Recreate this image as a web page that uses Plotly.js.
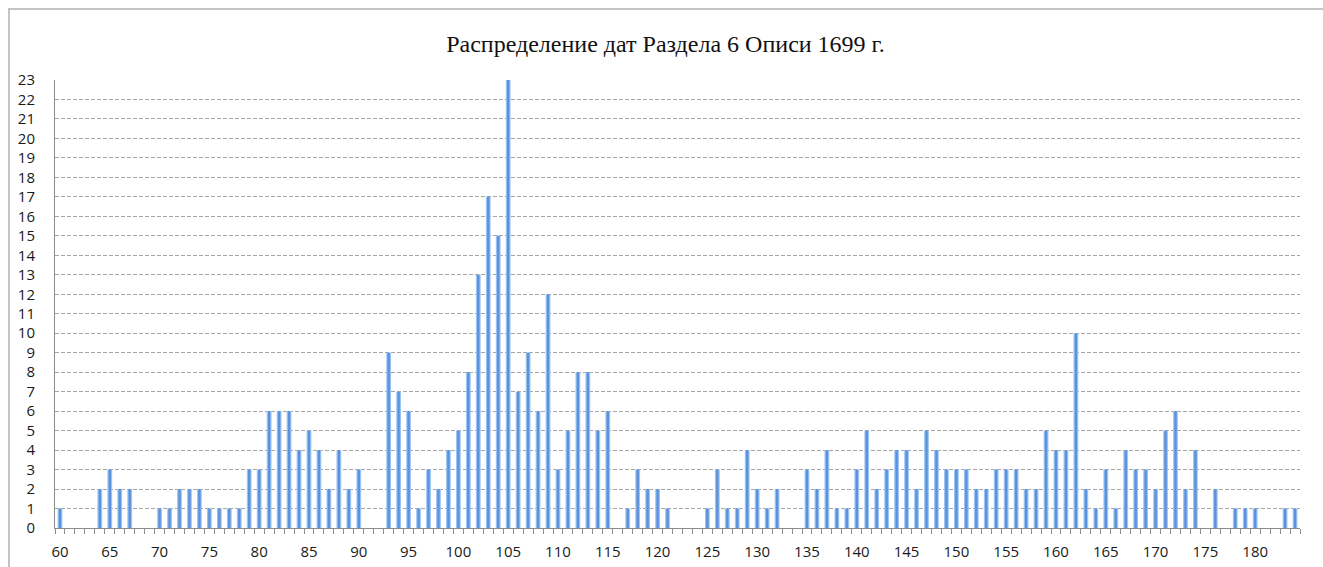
<!DOCTYPE html>
<html>
<head>
<meta charset="utf-8">
<script src="https://cdn.plot.ly/plotly-3.0.1.min.js"></script>
<style>
  html, body { margin: 0; padding: 0; background: #ffffff; width: 1323px; height: 567px; overflow: hidden; }
  #frame { position: absolute; left: 8px; top: 8px; width: 2000px; height: 2000px; border-left: 2px solid #c4c4c4; border-top: 2px solid #c4c4c4; }
  #chart { position: absolute; left: 0; top: 0; width: 1323px; height: 567px; }
</style>
</head>
<body>
<div id="frame"></div>
<div id="chart"></div>
<script>
const years = [
  60, 61, 62, 63, 64, 65, 66, 67, 68, 69,
  70, 71, 72, 73, 74, 75, 76, 77, 78, 79,
  80, 81, 82, 83, 84, 85, 86, 87, 88, 89,
  90, 91, 92, 93, 94, 95, 96, 97, 98, 99,
  100, 101, 102, 103, 104, 105, 106, 107, 108, 109,
  110, 111, 112, 113, 114, 115, 116, 117, 118, 119,
  120, 121, 122, 123, 124, 125, 126, 127, 128, 129,
  130, 131, 132, 133, 134, 135, 136, 137, 138, 139,
  140, 141, 142, 143, 144, 145, 146, 147, 148, 149,
  150, 151, 152, 153, 154, 155, 156, 157, 158, 159,
  160, 161, 162, 163, 164, 165, 166, 167, 168, 169,
  170, 171, 172, 173, 174, 175, 176, 177, 178, 179,
  180, 181, 182, 183, 184
];
const counts = [
  1, 0, 0, 0, 2, 3, 2, 2, 0, 0,
  1, 1, 2, 2, 2, 1, 1, 1, 1, 3,
  3, 6, 6, 6, 4, 5, 4, 2, 4, 2,
  3, 0, 0, 9, 7, 6, 1, 3, 2, 4,
  5, 8, 13, 17, 15, 23, 7, 9, 6, 12,
  3, 5, 8, 8, 5, 6, 0, 1, 3, 2,
  2, 1, 0, 0, 0, 1, 3, 1, 1, 4,
  2, 1, 2, 0, 0, 3, 2, 4, 1, 1,
  3, 5, 2, 3, 4, 4, 2, 5, 4, 3,
  3, 3, 2, 2, 3, 3, 3, 2, 2, 5,
  4, 4, 10, 2, 1, 3, 1, 4, 3, 3,
  2, 5, 6, 2, 4, 0, 2, 0, 1, 1,
  1, 0, 0, 1, 1
];
const xTickVals = [60, 65, 70, 75, 80, 85, 90, 95, 100, 105, 110, 115, 120, 125, 130, 135, 140, 145, 150, 155, 160, 165, 170, 175, 180];
const yTickVals = [0, 1, 2, 3, 4, 5, 6, 7, 8, 9, 10, 11, 12, 13, 14, 15, 16, 17, 18, 19, 20, 21, 22, 23];
const titleText = 'Распределение дат Раздела 6 Описи 1699 г.';

const traces = [
  {
    type: 'bar', x: years, y: counts, width: 0.48,
    marker: { color: '#9cc4f3', line: { width: 0 } },
    hoverinfo: 'x+y', showlegend: false
  },
  {
    type: 'bar', x: years, y: counts, width: 0.24,
    marker: { color: '#5b92de', line: { width: 0 } },
    hoverinfo: 'skip', showlegend: false
  }
];

const tickFont = { family: 'Open Sans', size: 15, color: '#1a1a1a' };

const layout = {
  width: 1323, height: 567,
  margin: { l: 55, r: 23, t: 80, b: 39 },
  paper_bgcolor: 'rgba(0,0,0,0)',
  plot_bgcolor: 'rgba(0,0,0,0)',
  barmode: 'overlay',
  showlegend: false,
  font: { family: 'Open Sans' },
  title: {
    text: titleText,
    font: { family: 'Liberation Serif', size: 24, color: '#111111' },
    x: 0.503, xref: 'container', xanchor: 'center',
    y: 1 - 44 / 567, yref: 'container', yanchor: 'middle'
  },
  xaxis: {
    type: 'linear',
    range: [59.5, 184.5],
    tickmode: 'array', tickvals: xTickVals, ticktext: xTickVals.map(String),
    ticks: 'outside', ticklen: 9, tickcolor: 'rgba(0,0,0,0)',
    ticklabelstandoff: 1,
    tickfont: tickFont,
    showgrid: false, zeroline: false,
    showline: true, linecolor: '#8c8c8c', linewidth: 1,
    minor: { tick0: 59.5, dtick: 1, ticks: 'outside', ticklen: 5, tickcolor: '#8c8c8c', tickwidth: 1, showgrid: false }
  },
  yaxis: {
    range: [0, 23],
    tickmode: 'array', tickvals: yTickVals, ticktext: yTickVals.map(String),
    ticks: '', ticklabelstandoff: 16,
    tickfont: tickFont,
    showgrid: true, gridcolor: '#a6a6a6', gridwidth: 1, griddash: '4px,2px',
    zeroline: false,
    showline: true, linecolor: '#8c8c8c', linewidth: 1
  }
};

Plotly.newPlot('chart', traces, layout, { displayModeBar: false, staticPlot: true });
</script>
</body>
</html>
